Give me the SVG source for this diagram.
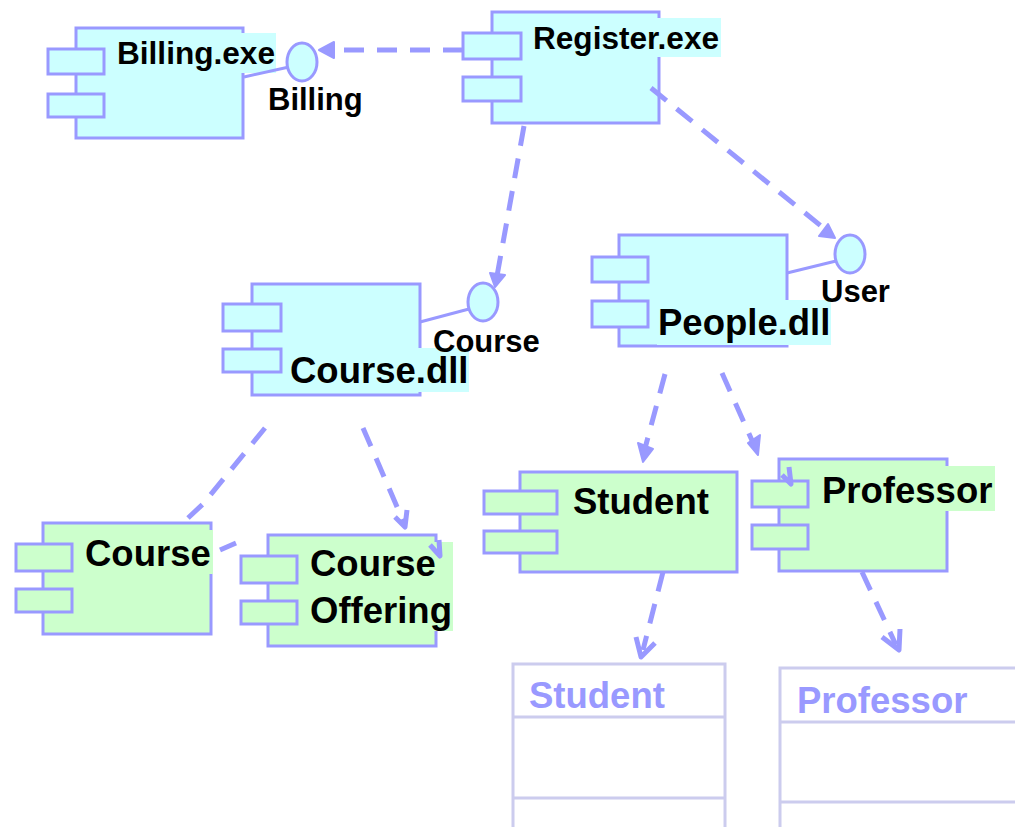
<svg xmlns="http://www.w3.org/2000/svg" width="1015" height="827" viewBox="0 0 1015 827">
<style>
.body{stroke:#9999ff;stroke-width:3}
.cy{fill:#ccffff}
.gr{fill:#ccffcc}
.bg{stroke:none}
.lbl{font-family:"Liberation Sans",Arial,sans-serif;font-weight:bold;fill:#000}
.s31{font-size:31px}
.s36{font-size:36.5px}
.iface{fill:#ccffff;stroke:#9999ff;stroke-width:3}
.stick{stroke:#9999ff;stroke-width:3;fill:none}
.dash{stroke:#9999ff;stroke-width:5;fill:none;stroke-dasharray:20 13}
.head{fill:#9999ff;stroke:#9999ff;stroke-width:2;stroke-linejoin:round}
.vhead{fill:none;stroke:#9999ff;stroke-width:5;stroke-linejoin:round}
.cls{fill:#fff;stroke:#ccccee;stroke-width:3}
.clsline{stroke:#ccccee;stroke-width:3}
.clstxt{font-family:"Liberation Sans",Arial,sans-serif;font-weight:bold;font-size:36.5px;fill:#9999ff}
</style>
<rect width="1015" height="827" fill="#fff"/>

<g id="billing-exe">
<rect class="body cy" x="76" y="28" width="167" height="110"/>
<rect class="body cy" x="48" y="49" width="56" height="25"/>
<rect class="body cy" x="48" y="94" width="56" height="23"/>
<rect class="bg cy" x="114" y="33" width="162" height="40"/>
<text class="lbl s31" x="117" y="64" textLength="158" lengthAdjust="spacingAndGlyphs">Billing.exe</text>
</g>

<g id="billing-iface">
<line class="stick" x1="244" y1="77" x2="289" y2="67"/>
<ellipse class="iface" cx="302" cy="62" rx="15" ry="19"/>
<text class="lbl s31" x="268" y="110">Billing</text>
</g>

<g id="register-exe">
<rect class="body cy" x="492" y="12" width="167" height="111"/>
<rect class="body cy" x="463" y="33" width="58" height="26"/>
<rect class="body cy" x="463" y="77" width="58" height="24"/>
<rect class="bg cy" x="530" y="18" width="191" height="39"/>
<text class="lbl s31" x="533" y="49" textLength="186" lengthAdjust="spacingAndGlyphs">Register.exe</text>
</g>

<g id="course-dll">
<rect class="body cy" x="252" y="284" width="168" height="111"/>
<rect class="body cy" x="223" y="304" width="58" height="27"/>
<rect class="body cy" x="223" y="349" width="58" height="23"/>
<rect class="bg cy" x="287" y="348" width="182" height="44"/>
<text class="lbl s36" x="290" y="383">Course.dll</text>
</g>

<g id="course-iface">
<line class="stick" x1="420" y1="322" x2="469" y2="309"/>
<ellipse class="iface" cx="483" cy="302" rx="15" ry="19"/>
<text class="lbl s31" x="433" y="352">Course</text>
</g>

<g id="people-dll">
<rect class="body cy" x="619" y="235" width="168" height="111"/>
<rect class="body cy" x="592" y="257" width="56" height="25"/>
<rect class="body cy" x="592" y="301" width="56" height="26"/>
<rect class="bg cy" x="657" y="300" width="174" height="45"/>
<text class="lbl s36" x="658" y="335">People.dll</text>
</g>

<g id="user-iface">
<line class="stick" x1="787" y1="273" x2="836" y2="261"/>
<ellipse class="iface" cx="850" cy="254" rx="15" ry="19"/>
<text class="lbl s31" x="821" y="302">User</text>
</g>

<g id="course">
<rect class="body gr" x="43" y="523" width="168" height="111"/>
<rect class="body gr" x="16" y="544" width="56" height="27"/>
<rect class="body gr" x="16" y="589" width="56" height="23"/>
<rect class="bg gr" x="83" y="530" width="130" height="44"/>
<text class="lbl s36" x="85" y="566">Course</text>
</g>

<g id="course-offering">
<rect class="body gr" x="268" y="535" width="168" height="111"/>
<rect class="body gr" x="241" y="556" width="56" height="27"/>
<rect class="body gr" x="241" y="601" width="56" height="23"/>
<rect class="bg gr" x="305" y="542" width="148" height="89"/>
<text class="lbl s36" x="310" y="576">Course</text>
<text class="lbl s36" x="310" y="623">Offering</text>
</g>

<g id="student">
<rect class="body gr" x="520" y="472" width="217" height="100"/>
<rect class="body gr" x="484" y="491" width="73" height="23"/>
<rect class="body gr" x="484" y="531" width="73" height="22"/>
<text class="lbl s36" x="573" y="514">Student</text>
</g>

<g id="professor">
<rect class="body gr" x="779" y="459" width="168" height="112"/>
<rect class="body gr" x="752" y="481" width="56" height="26"/>
<rect class="body gr" x="752" y="525" width="56" height="24"/>
<rect class="bg gr" x="815" y="466" width="180" height="45"/>
<text class="lbl s36" x="822" y="503">Professor</text>
</g>

<g id="student-class">
<rect class="cls" x="513" y="664" width="212" height="180"/>
<line class="clsline" x1="513" y1="717" x2="725" y2="717"/>
<line class="clsline" x1="513" y1="798" x2="725" y2="798"/>
<text class="clstxt" x="529" y="708">Student</text>
</g>

<g id="professor-class">
<rect class="cls" x="780" y="668" width="260" height="180"/>
<line class="clsline" x1="780" y1="722" x2="1020" y2="722"/>
<line class="clsline" x1="780" y1="802" x2="1020" y2="802"/>
<text class="clstxt" x="797" y="713">Professor</text>
</g>

<g id="connectors">
<line class="dash" x1="463" y1="50" x2="330" y2="50"/>
<polygon class="head" points="319,50 334,42 334,58"/>

<line class="dash" x1="524" y1="126" x2="497" y2="276"/>
<polygon class="head" points="495,287 490,273 505,275"/>

<line class="dash" x1="651" y1="88" x2="826" y2="230"/>
<polygon class="head" points="835,238 819,236 828,224"/>

<polyline class="dash" points="265,428 203,504 188,518"/>
<line class="dash" x1="220" y1="550" x2="236" y2="543" stroke-dasharray="none"/>

<line class="dash" x1="363" y1="428" x2="404" y2="523"/>
<polyline class="vhead" points="395,517 405,527 407,510"/>
<polyline class="vhead" points="430,545 440,556 439,540"/>

<line class="dash" x1="665" y1="374" x2="644" y2="452"/>
<polygon class="head" points="643,462 638,443 653,449"/>

<line class="dash" x1="722" y1="373" x2="754" y2="445"/>
<polygon class="head" points="758,455 748,443 760,435"/>
<polyline class="vhead" points="782,475 791,484 789,467"/>

<line class="dash" x1="663" y1="572" x2="643" y2="650"/>
<polyline class="vhead" points="636,637 641,657 655,643"/>

<line class="dash" x1="862" y1="572" x2="896" y2="645"/>
<polyline class="vhead" points="882,637 899,650 900,629"/>
</g>
</svg>
